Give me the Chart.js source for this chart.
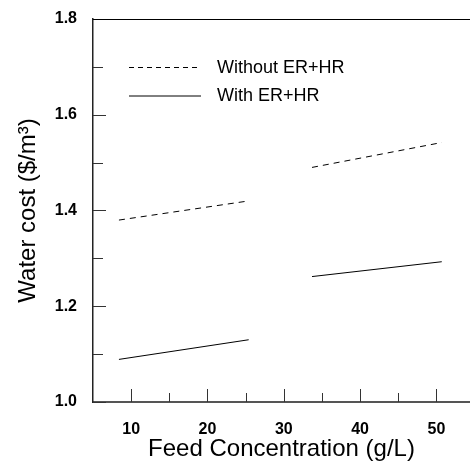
<!DOCTYPE html>
<html lang="en">
<head>
    <meta charset="UTF-8">
    <title>Water cost vs feed concentration</title>
    <style>
        * { box-sizing: border-box; }
        body { margin: 0; background: #fff; overflow: hidden; }
        .chart-container { width: 470px; height: 464px; }
    </style>
</head>
<body>
<div class="chart-container">
    <canvas id="costChart"></canvas>
</div>

<script src="https://cdn.jsdelivr.net/npm/chart.js"></script>
<script>
    // data (null breaks the line between the two runs)
    const feedConc = [8.4, 25.4, null, 33.7, 50.7];
    const withoutErHr = [1.380, 1.420, null, 1.490, 1.542];
    const withErHr = [1.089, 1.130, null, 1.262, 1.293];
    const seriesLabels = ['Without ER+HR', 'With ER+HR'];
    const xTicks = [10, 20, 30, 40, 50];
    const yTicks = [1.0, 1.2, 1.4, 1.6, 1.8];

    const FONT = '"Liberation Sans", Arial, sans-serif';

    function toPoints(ys) {
        return feedConc.map((x, i) => ({ x: x === null ? 30 : x, y: ys[i] }));
    }

    // ticks drawn inward (major + minor), plus top frame line and legend
    const frame = {
        id: 'frame',
        afterDraw(chart) {
            const ctx = chart.ctx;
            const a = chart.chartArea;
            const xs = chart.scales.x;
            const ys = chart.scales.y;
            ctx.save();
            ctx.strokeStyle = '#333';
            ctx.lineWidth = 1;
            // y ticks
            for (let v = 1.0; v <= 1.81; v += 0.1) {
                const py = Math.round(ys.getPixelForValue(v)) + 0.5;
                const major = Math.abs(v * 5 - Math.round(v * 5)) < 1e-6;
                ctx.beginPath();
                ctx.moveTo(a.left, py);
                ctx.lineTo(a.left + (major ? 13 : 10), py);
                ctx.stroke();
            }
            // x ticks
            for (let v = 10; v <= 50; v += 5) {
                const px = Math.round(xs.getPixelForValue(v)) + 0.5;
                const major = v % 10 === 0;
                ctx.beginPath();
                ctx.moveTo(px, a.bottom);
                ctx.lineTo(px, a.bottom - (major ? 13 : 9));
                ctx.stroke();
            }
            // top line
            ctx.strokeStyle = '#000';
            ctx.beginPath();
            ctx.moveTo(a.left, a.top + 0.5);
            ctx.lineTo(a.right, a.top + 0.5);
            ctx.stroke();

            // legend inside plot
            ctx.font = '18px ' + FONT;
            ctx.fillStyle = '#000';
            ctx.textBaseline = 'middle';
            chart.data.datasets.forEach((ds, i) => {
                const ly = 67 + i * 28.5;
                ctx.strokeStyle = '#000';
                ctx.setLineDash(ds.borderDash ? [5, 4] : []);
                ctx.beginPath();
                ctx.moveTo(129, ly + 0.5);
                ctx.lineTo(201, ly + 0.5);
                ctx.stroke();
                ctx.setLineDash([]);
                ctx.fillText(ds.label, 217, ly + 1);
            });
            ctx.restore();
        }
    };

    const ctx = document.getElementById('costChart').getContext('2d');
    const costChart = new Chart(ctx, {
        type: 'scatter',
        data: {
            datasets: [{
                label: seriesLabels[0],
                data: toPoints(withoutErHr),
                showLine: true,
                spanGaps: false,
                borderColor: '#000',
                borderWidth: 1,
                borderDash: [6, 5],
                pointRadius: 0
            }, {
                label: seriesLabels[1],
                data: toPoints(withErHr),
                showLine: true,
                spanGaps: false,
                borderColor: '#000',
                borderWidth: 1,
                pointRadius: 0
            }]
        },
        options: {
            responsive: true,
            maintainAspectRatio: false,
            animation: false,
            layout: { padding: { top: 19, right: 0, left: 0, bottom: 0 } },
            plugins: {
                legend: { display: false },
                tooltip: { enabled: false }
            },
            scales: {
                x: {
                    type: 'linear',
                    min: 5,
                    max: 54.4,
                    afterBuildTicks: s => { s.ticks = xTicks.map(v => ({ value: v })); },
                    afterFit: s => { s.height = 62; s.paddingLeft = 0; s.paddingRight = 0; },
                    grid: { drawOnChartArea: false, drawTicks: false },
                    border: { color: '#555', width: 2 },
                    ticks: {
                        padding: 18,
                        color: '#000',
                        font: { family: FONT, size: 16, weight: 'bold' }
                    },
                    title: {
                        display: true,
                        text: 'Feed Concentration (g/L)',
                        color: '#000',
                        padding: { top: 0, bottom: 0 },
                        font: { family: FONT, size: 24 }
                    }
                },
                y: {
                    type: 'linear',
                    min: 1.0,
                    max: 1.8,
                    afterBuildTicks: s => { s.ticks = yTicks.map(v => ({ value: v })); },
                    afterFit: s => { s.width = 93; s.paddingTop = 0; s.paddingBottom = 0; },
                    grid: { drawOnChartArea: false, drawTicks: false },
                    border: { color: '#222', width: 1.5 },
                    ticks: {
                        padding: 16,
                        color: '#000',
                        callback: v => v.toFixed(1),
                        font: { family: FONT, size: 16, weight: 'bold' }
                    },
                    title: {
                        display: true,
                        text: 'Water cost ($/m³)',
                        color: '#000',
                        padding: { top: 14, bottom: 0 },
                        font: { family: FONT, size: 24 }
                    }
                }
            }
        },
        plugins: [frame]
    });
</script>
</body>
</html>
